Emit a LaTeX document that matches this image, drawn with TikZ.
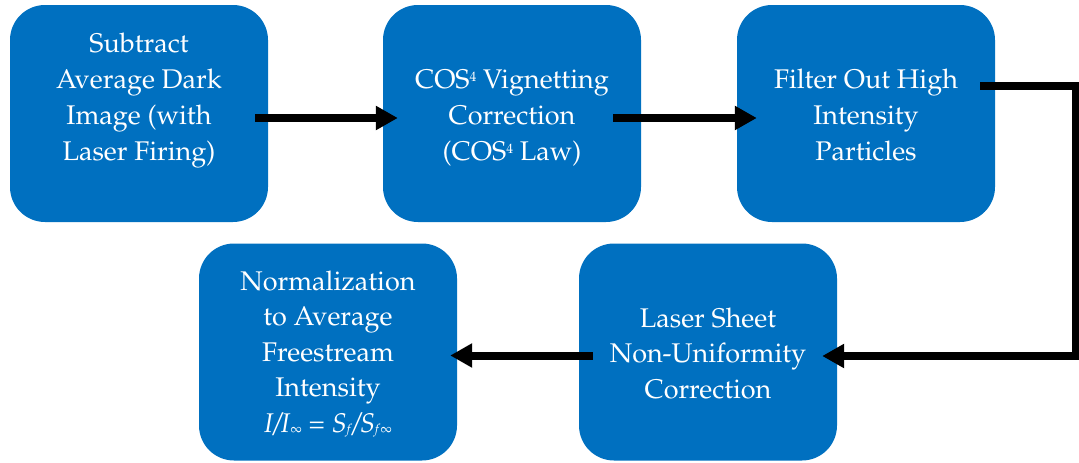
\documentclass[tikz,border=0pt]{standalone}
\usepackage[T1]{fontenc}
\usepackage{mathpazo}
\usetikzlibrary{arrows.meta}
\definecolor{stepblue}{RGB}{0,112,192}
% small raised "4" and small lowered indices, as set in the step labels
\newcommand{\supfour}{\raisebox{7pt}{\fontsize{13.5}{13.5}\selectfont 4}}
\newcommand{\smallsub}[1]{\raisebox{-1.5pt}{\fontsize{13}{13}\selectfont #1}}
\tikzset{
  stepbox/.style={fill=stepblue, rounded corners=35pt, minimum width=258pt,
    minimum height=217pt, inner sep=0pt},
  steptext/.style={text=white, align=center, anchor=north, inner sep=0pt},
  toptext/.style={steptext, font=\fontsize{27}{36}\selectfont},
  bottext/.style={steptext, font=\fontsize{27}{35.5}\selectfont},
  flow/.style={line width=8pt, -{Triangle[length=22pt,width=23pt]}}
}
\begin{document}
\begin{tikzpicture}[x=1pt, y=-1pt]
\useasboundingbox (0,0) rectangle (1079,463);

% processing steps
\node[stepbox] (b1) at (139,113.5) {};
\node[stepbox] (b2) at (512,113.5) {};
\node[stepbox] (b3) at (866,113.5) {};
\node[stepbox] (b4) at (708,352) {};
\node[stepbox] (b5) at (328,352) {};

% step labels (north anchor = top of first-line strut)
\node[toptext] (t1) at (139,26.8) {\strut Subtract\\Average Dark\\Image (with\\Laser Firing)};
\node[toptext] (t2) at (512,62.8) {\strut COS\supfour{} Vignetting\\Correction\\(COS\supfour{} Law)};
\node[toptext] (t3) at (866,62.8) {\strut Filter Out High\\Intensity\\Particles};
\node[bottext] (t4) at (708,302.2) {\strut Laser Sheet\\Non-Uniformity\\Correction};
\node[bottext] (t5) at (328,265.2) {\strut Normalization\\to Average\\Freestream\\Intensity\\
  \textit{I/I}\smallsub{$\infty$} = \textit{S}\smallsub{\textit{f}}\textit{/S}\smallsub{\textit{f}$\infty$}};

% flow between steps
\draw[flow] ([xshift=-13pt,yshift=-4.5pt]b1.east) -- ([xshift=15pt,yshift=-4.5pt]b2.west);
\draw[flow] ([xshift=-28pt,yshift=-4.5pt]b2.east) -- ([xshift=20pt,yshift=-4.5pt]b3.west);
\coordinate (turn) at (1076,86);
\draw[flow] ([xshift=-15pt,yshift=27.5pt]b3.east) -- (turn) |- ([xshift=-15pt,yshift=-4pt]b4.east);
\draw[flow] ([xshift=14pt,yshift=-3.5pt]b4.west) -- ([xshift=-7pt,yshift=-3.5pt]b5.east);
\end{tikzpicture}
\end{document}
